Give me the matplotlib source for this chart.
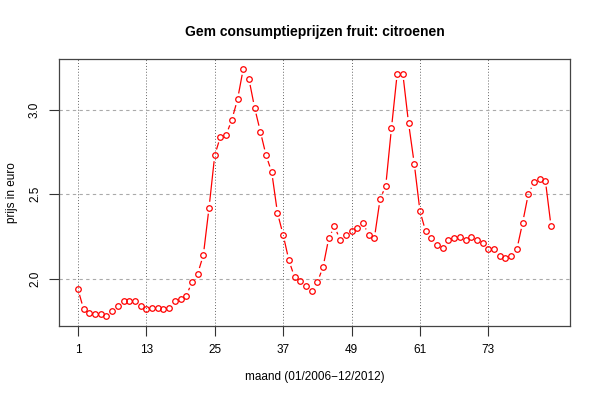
import numpy as np
import matplotlib
matplotlib.use("Agg")
import matplotlib.pyplot as plt

plt.rcParams['font.family'] = ['Liberation Sans', 'DejaVu Sans']

title = "Gem consumptieprijzen fruit: citroenen"
xlabel = "maand (01/2006\u221212/2012)"
ylabel = "prijs in euro"

months = list(range(1, 85))
prices = [
    1.94, 1.82, 1.80, 1.79, 1.79, 1.78, 1.81, 1.84, 1.87, 1.87, 1.87, 1.84,
    1.82, 1.83, 1.83, 1.82, 1.83, 1.87, 1.88, 1.90, 1.98, 2.03, 2.14, 2.42,
    2.73, 2.84, 2.85, 2.94, 3.06, 3.24, 3.18, 3.01, 2.87, 2.73, 2.63, 2.39,
    2.26, 2.11, 2.01, 1.99, 1.96, 1.93, 1.98, 2.07, 2.24, 2.31, 2.23, 2.26,
    2.28, 2.30, 2.33, 2.26, 2.24, 2.47, 2.55, 2.89, 3.21, 3.21, 2.92, 2.68,
    2.40, 2.28, 2.24, 2.20, 2.18, 2.23, 2.24, 2.25, 2.23, 2.25, 2.23, 2.21,
    2.175, 2.175, 2.135, 2.125, 2.135, 2.175, 2.33, 2.50, 2.57, 2.59, 2.58, 2.31,
]
xticks = [1, 13, 25, 37, 49, 61, 73]
yticks = [2.0, 2.5, 3.0]
ytick_labels = ["2.0", "2.5", "3.0"]

W, H = 600, 400
fig = plt.figure(figsize=(6, 4), dpi=100)
ax = fig.add_axes([59 / W, (H - 326) / H, (570 - 59) / W, (326 - 59) / H])

x = np.array(months, dtype=float)
y = np.array(prices, dtype=float)

# R-style 4% padding
xr = x.max() - x.min()
yr = y.max() - y.min()
ax.set_xlim(x.min() - 0.04 * xr, x.max() + 0.04 * xr)
ax.set_ylim(y.min() - 0.04 * yr, y.max() + 0.04 * yr)

# grid
for xt in xticks:
    ax.axvline(xt, color='#666666', lw=0.7, linestyle=(0, (1, 2)), zorder=1)
for yt in yticks:
    ax.axhline(yt, color='#aaaaaa', lw=0.8, linestyle=(0, (3, 3)), zorder=1)

# type "b": segments with gaps around points
color = '#ff0000'
pts = ax.transData.transform(np.column_stack([x, y]))
gap = 6.0
inv = ax.transData.inverted()
for i in range(len(pts) - 1):
    p0, p1 = pts[i], pts[i + 1]
    d = p1 - p0
    L = np.hypot(*d)
    if L <= 2 * gap:
        continue
    u = d / L
    a = inv.transform(p0 + u * gap)
    b = inv.transform(p1 - u * gap)
    ax.plot([a[0], b[0]], [a[1], b[1]], color=color, lw=0.9, zorder=2,
            solid_capstyle='butt')

ax.plot(x, y, linestyle='none', marker='o', markersize=4.0,
        markerfacecolor='none', markeredgecolor=color, markeredgewidth=0.9,
        zorder=3)

ax.set_xticks(xticks)
ax.set_xticklabels([str(t) for t in xticks], fontsize=8.5)
ax.set_yticks(yticks)
ax.set_yticklabels(ytick_labels, fontsize=8.5, rotation=90, va='center')
ax.tick_params(axis='both', direction='out', length=7, width=0.8, color='#333333')
ax.tick_params(axis='x', pad=6)
ax.tick_params(axis='y', pad=6)

for s in ax.spines.values():
    s.set_color('#444444')
    s.set_linewidth(0.9)

fig.text((59 + 570) / 2 / W, 1 - 32 / H, title, ha='center', va='center',
         fontsize=10, fontweight='bold')
fig.text((59 + 570) / 2 / W, 1 - 377 / H, xlabel, ha='center', va='center',
         fontsize=8.5)
fig.text(12 / W, 1 - (59 + 326) / 2 / H, ylabel, ha='center', va='center',
         fontsize=8.5, rotation=90)

fig.savefig("out.png", dpi=100)
